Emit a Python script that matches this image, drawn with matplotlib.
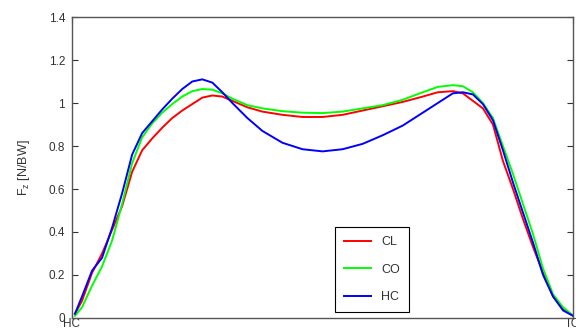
import matplotlib
matplotlib.use("Agg")
import matplotlib.pyplot as plt

plt.rcParams['font.family'] = ['Liberation Sans', 'DejaVu Sans']

# stance phase in percent, HC = 0, TO = 100
stance = [0.6, 2, 4, 6, 8, 10, 12, 14, 16, 18, 20, 22, 24, 26, 28, 30, 32,
          35, 38, 42, 46, 50, 54, 58, 62, 66, 70, 73, 76, 78, 80, 82, 84,
          86, 88, 90, 92, 94, 96, 98, 100]

fz_cl = [0.02, 0.08, 0.21, 0.30, 0.41, 0.52, 0.68, 0.78, 0.835, 0.885,
         0.93, 0.965, 0.995, 1.025, 1.035, 1.03, 1.01, 0.98, 0.96, 0.945,
         0.935, 0.935, 0.945, 0.965, 0.985, 1.005, 1.03, 1.05, 1.055,
         1.045, 1.01, 0.975, 0.90, 0.73, 0.60, 0.46, 0.33, 0.21, 0.10,
         0.04, 0.01]
fz_co = [0.01, 0.05, 0.15, 0.24, 0.36, 0.53, 0.72, 0.84, 0.905, 0.955,
         0.995, 1.03, 1.055, 1.065, 1.062, 1.045, 1.02, 0.99, 0.975, 0.962,
         0.955, 0.953, 0.96, 0.975, 0.99, 1.015, 1.05, 1.075, 1.083, 1.078,
         1.05, 1.00, 0.93, 0.80, 0.67, 0.53, 0.39, 0.23, 0.11, 0.05, 0.01]
fz_hc = [0.02, 0.10, 0.22, 0.28, 0.42, 0.58, 0.76, 0.86, 0.915, 0.97,
         1.02, 1.065, 1.10, 1.11, 1.095, 1.05, 1.00, 0.93, 0.87, 0.815,
         0.785, 0.775, 0.785, 0.81, 0.85, 0.895, 0.955, 1.00, 1.045, 1.05,
         1.04, 0.995, 0.92, 0.78, 0.63, 0.49, 0.35, 0.20, 0.10, 0.035, 0.01]

labels = ['CL', 'CO', 'HC']
colors = ['#ff0000', '#00ff00', '#0000ff']

fig = plt.figure(figsize=(5.76, 3.31), dpi=100)
ax = fig.add_axes([0.125, 0.0393, 0.87, 0.9093])

for ys, lab, col in zip([fz_cl, fz_co, fz_hc], labels, colors):
    ax.plot(stance, ys, color=col, lw=1.4, label=lab)

ax.set_xlim(0, 100)
ax.set_ylim(0, 1.4)
ax.set_xticks([0, 100])
ax.set_xticklabels(['HC', 'TO'])
ax.set_yticks([0, 0.2, 0.4, 0.6, 0.8, 1.0, 1.2, 1.4])
ax.set_yticklabels(['0', '0.2', '0.4', '0.6', '0.8', '1', '1.2', '1.4'])
ax.tick_params(direction='in', top=True, right=True, length=4, width=0.8,
               labelsize=8.5, colors='#333333', pad=5)
ax.tick_params(axis='x', pad=0)
for sp in ax.spines.values():
    sp.set_color('#555555')
    sp.set_linewidth(1.0)

ax.set_ylabel(r'$\mathregular{F_z}$ [N/BW]', fontsize=9, color='#333333',
              labelpad=12)

leg = ax.legend(loc='lower left', bbox_to_anchor=(0.525, 0.02),
                fontsize=9, frameon=True, fancybox=False, edgecolor='black',
                framealpha=1, labelspacing=1.25, handlelength=2.2,
                handletextpad=0.8, borderpad=0.7, borderaxespad=0)
leg.get_frame().set_linewidth(0.8)
for t in leg.get_texts():
    t.set_color('#333333')

fig.savefig('out.png', dpi=100)
